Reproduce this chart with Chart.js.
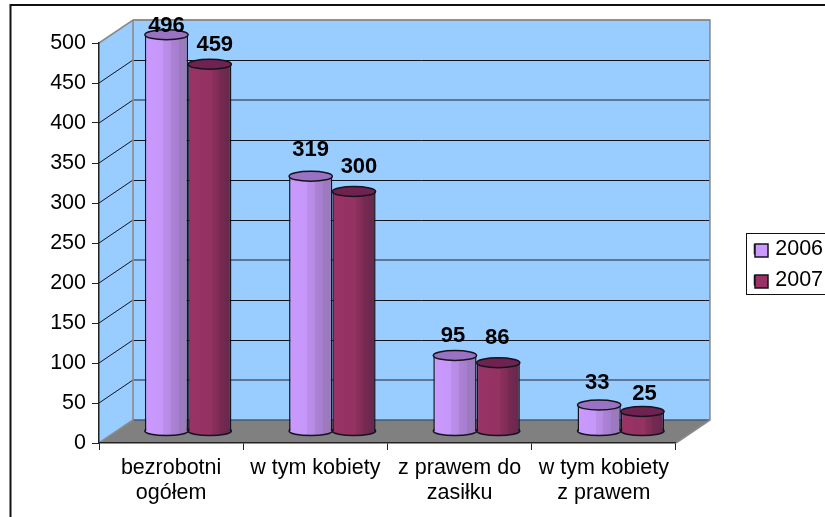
<!DOCTYPE html>
<html><head><meta charset="utf-8">
<script src="https://cdn.jsdelivr.net/npm/chart.js@4"></script>
<style>html,body{margin:0;padding:0;background:#fff;overflow:hidden}#w{width:825px;height:517px}</style>
</head><body><div id="w"><canvas id="c" width="825" height="517"></canvas></div>
<script>
const categories = [['bezrobotni','ogółem'],'w tym kobiety',['z prawem do','zasiłku'],['w tym kobiety','z prawem']];
const series2006 = [496,319,95,33];
const series2007 = [459,300,86,25];
const seriesNames = ['2006','2007'];
const yTicks = [0,50,100,150,200,250,300,350,400,450,500];
// gridline tints on the back wall, by tick
const wallLineColors = ['#4a5a70','#4a5a70','#10141c','#10141c','#4a5a70','#10141c','#10141c','#10141c','#4a5a70','#10141c','#8a8a8a'];
// label placement relative to each bar's top centre, px: [dx, lift]
const labelNudge = [[[0,10],[5,20]],[[0,27],[5,26]],[[-2,21],[-1,26]],[[-2,23],[2,19]]];

const DX=34, DY=-23, MX=17, MY=-11.5, RY=4.5;
const FONT='"Liberation Sans", Arial, sans-serif';
const palettes=[
 {top:'#9a72c2',stops:[['0','#CC99FF'],['.42','#C497F8'],['.42','#BC8EEA'],['.6','#B68AE2'],['.6','#AC82D6'],['.78','#A57ECE'],['.78','#9F78C4'],['1','#977DB4']]},
 {top:'#6f2150',stops:[['0','#993366'],['.55','#943262'],['.55','#8C305E'],['.72','#7E2C56'],['.72','#762A52'],['.88','#702850'],['.88','#6a2a4e'],['1','#64284a']]}
];
const solid=['#CC99FF','#993366'];
const LINE='#14141e';

const scene={
 id:'scene',
 afterLayout(ch){
  const l=ch.legend;
  l.left=745; l.right=825; l.top=229; l.bottom=500; l.adjustHitBoxes();
 },
 beforeDraw(ch){
  const c=ch.ctx,y=ch.scales.y,x=ch.scales.x,L=x.left,R=x.right,B=y.bottom,T=y.top;
  c.save();
  c.fillStyle='#fff';c.fillRect(0,0,825,517);
  c.strokeStyle='#111';c.lineWidth=2;
  c.beginPath();c.moveTo(10.5,517);c.lineTo(10.5,5);c.lineTo(825,5);c.stroke();
  // back wall + side wall
  c.fillStyle='#99CCFF';
  c.fillRect(L+DX,T+DY,R-L,B-T);
  c.beginPath();c.moveTo(L,T);c.lineTo(L+DX,T+DY);c.lineTo(L+DX,B+DY);c.lineTo(L,B);c.closePath();c.fill();
  // floor
  c.fillStyle='#808080';
  c.beginPath();c.moveTo(L,B);c.lineTo(L+DX,B+DY);c.lineTo(R+DX,B+DY);c.lineTo(R,B);c.closePath();c.fill();
  // grid
  yTicks.forEach((v,i)=>{
   const p=y.getPixelForValue(v), dark=wallLineColors[i]==='#10141c';
   const py=dark?Math.round(p+DY)+.5:p+DY;
   c.strokeStyle=wallLineColors[i];c.lineWidth=dark?1:1.5;
   c.beginPath();c.moveTo(L+DX,py);c.lineTo(R+DX,py);c.stroke();
   if(v>0&&v<500){c.strokeStyle='#10141c';c.lineWidth=1;c.beginPath();c.moveTo(L,p);c.lineTo(L+DX,p+DY);c.stroke();}
  });
  c.strokeStyle='#8a8a8a';c.lineWidth=1.6;
  c.beginPath();c.moveTo(L,T);c.lineTo(L+DX,T+DY);c.lineTo(R+DX,T+DY);c.lineTo(R+DX,B+DY);c.lineTo(R,B);
  c.moveTo(L+DX,T+DY);c.lineTo(L+DX,B+DY);c.lineTo(L,B);c.stroke();
  c.restore();
 },
 beforeDatasetDraw(ch,a){
  const c=ch.ctx,meta=a.meta,pal=palettes[a.index];
  c.save();c.translate(MX,MY);
  meta.data.forEach(el=>{
   const w=el.width,l=el.x-w/2;
   const g=c.createLinearGradient(l,0,l+w,0);
   pal.stops.forEach(s=>g.addColorStop(+s[0],s[1]));
   el.options=Object.assign({},el.options,{backgroundColor:g});
   c.fillStyle=g;c.strokeStyle=LINE;c.lineWidth=1.5;
   c.beginPath();c.ellipse(el.x,el.base,w/2,RY,0,0,Math.PI*2);c.fill();c.stroke();
  });
 },
 afterDatasetDraw(ch,a){
  const c=ch.ctx,pal=palettes[a.index];
  a.meta.data.forEach(el=>{
   c.fillStyle=pal.top;c.strokeStyle=LINE;c.lineWidth=1.5;
   c.beginPath();c.ellipse(el.x,el.y,el.width/2,RY+.5,0,0,Math.PI*2);c.fill();c.stroke();
  });
  c.restore();
 },
 afterDraw(ch){
  const c=ch.ctx;
  c.save();
  // data labels
  c.font='bold 22px '+FONT;c.fillStyle='#000';c.textAlign='center';c.textBaseline='middle';
  [0,1].forEach(d=>{
   ch.getDatasetMeta(d).data.forEach((el,i)=>{
    const n=labelNudge[i][d];
    c.fillText(ch.data.datasets[d].data[i],el.x+MX+n[0],el.y+MY-n[1]+1);
   });
  });
  // legend frame and full-size swatches
  c.strokeStyle='#111';c.lineWidth=1;c.strokeRect(746.5,233.5,90,61);
  ch.legend.legendHitBoxes.forEach((h,i)=>{
   c.fillStyle=solid[i];c.strokeStyle=LINE;c.lineWidth=1.5;
   c.fillRect(755,244+i*31,13,13);c.strokeRect(755,244+i*31,13,13);
  });
  c.restore();
 }
};

const colorsByName={[seriesNames[0]]:solid[0],[seriesNames[1]]:solid[1]};
new Chart(document.getElementById('c'),{
 type:'bar',
 data:{labels:categories,datasets:[
  {label:seriesNames[0],data:series2006},
  {label:seriesNames[1],data:series2007}
 ].map(d=>Object.assign(d,{clip:false,backgroundColor:colorsByName[d.label],borderColor:LINE,borderWidth:{left:1.5,right:1.5,top:0,bottom:0},borderSkipped:false,categoryPercentage:.6,barPercentage:1}))},
 options:{
  responsive:false,animation:false,
  layout:{padding:{top:43,right:61,bottom:0,left:0}},
  scales:{
   x:{offset:true,
    afterFit(s){s.height=74;},
    border:{color:'#222',width:1.5},
    grid:{drawOnChartArea:false,offset:true,color:'#222',tickLength:7,drawTicks:true},
    ticks:{color:'#000',maxRotation:0,minRotation:0,autoSkip:false,padding:6,font:{family:FONT,size:21.5,lineHeight:1.163}}},
   y:{min:0,max:500,
    afterFit(s){s.width=99;},
    afterBuildTicks(s){s.ticks=yTicks.map(v=>({value:v}));},
    border:{color:'#222',width:1.5},
    grid:{drawOnChartArea:false,color:'#222',tickLength:7},
    ticks:{color:'#000',padding:6,font:{family:FONT,size:21.5}}}
  },
  plugins:{
   title:{display:false},tooltip:{enabled:false},
   legend:{position:'right',align:'start',
    labels:{color:'#000',boxWidth:10,boxHeight:9,padding:9.5,font:{family:FONT,size:21.5},
     generateLabels(ch){return ch.data.datasets.map((d,i)=>({text:d.label,fillStyle:solid[i],strokeStyle:LINE,lineWidth:1.5,datasetIndex:i,hidden:false}));}}}
  }
 },
 plugins:[scene]
});
</script></body></html>
